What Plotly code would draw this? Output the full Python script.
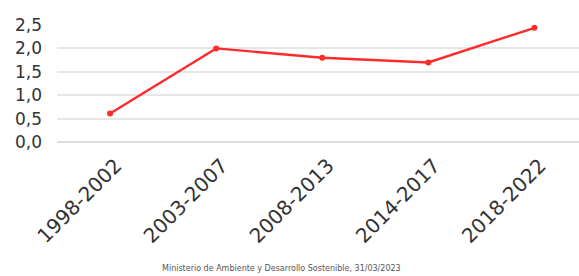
import plotly.graph_objects as go

periods = ["1998-2002", "2003-2007", "2008-2013", "2014-2017", "2018-2022"]
values = [0.61, 2.0, 1.8, 1.7, 2.44]
y_ticks = [0.0, 0.5, 1.0, 1.5, 2.0, 2.5]
y_tick_labels = ["0,0", "0,5", "1,0", "1,5", "2,0", "2,5"]
source = "Ministerio de Ambiente y Desarrollo Sostenible, 31/03/2023"

x_pos = list(range(len(periods)))
x_range = [-0.5, 4.42]
label_shift = 0.055  # tick labels sit slightly right of the points

fig = go.Figure()
fig.add_trace(go.Scatter(
    x=x_pos, y=values, mode="lines+markers",
    line=dict(color="#ff2b2b", width=2.4),
    marker=dict(color="#ff2b2b", size=6),
    hoverinfo="skip", showlegend=False,
))
# invisible companion trace so the label axis is rendered
fig.add_trace(go.Scatter(
    x=x_pos, y=values, xaxis="x2", mode="markers",
    marker=dict(opacity=0), hoverinfo="skip", showlegend=False,
))
fig.update_layout(
    width=579, height=276,
    margin=dict(l=57, r=0, t=25, b=134, autoexpand=False),
    paper_bgcolor="white", plot_bgcolor="white",
    font=dict(family="DejaVu Sans, sans-serif", color="#333333"),
    xaxis=dict(
        tickmode="array", tickvals=x_pos, range=x_range,
        showticklabels=False, showgrid=False, zeroline=False,
        showline=False, ticks="",
    ),
    xaxis2=dict(
        overlaying="x", side="bottom", anchor="y",
        tickmode="array", tickvals=x_pos, ticktext=periods,
        range=[x_range[0] - label_shift, x_range[1] - label_shift],
        tickangle=-45, showgrid=False, zeroline=False,
        showline=False, ticks="", tickfont=dict(size=20, color="#333333"),
        automargin=False, ticklabelstandoff=7,
    ),
    yaxis=dict(
        tickmode="array", tickvals=y_ticks, ticktext=y_tick_labels,
        range=[0, 2.5], showgrid=True, gridcolor="#e6e6e6", gridwidth=1.5,
        zeroline=True, zerolinecolor="#dcdcdc", zerolinewidth=1.5,
        showline=False, ticks="", tickfont=dict(size=17, color="#333333"),
        ticklabelstandoff=14, automargin=False,
    ),
    annotations=[dict(
        text=source, xref="paper", yref="paper", x=0.43, y=-1.08,
        xanchor="center", yanchor="middle", showarrow=False,
        font=dict(size=8, color="#555555"),
    )],
)
fig.write_html(
    "out.html",
    config={"displayModeBar": False},
    post_script="document.body.style.margin='0';document.body.style.overflow='hidden';",
)
